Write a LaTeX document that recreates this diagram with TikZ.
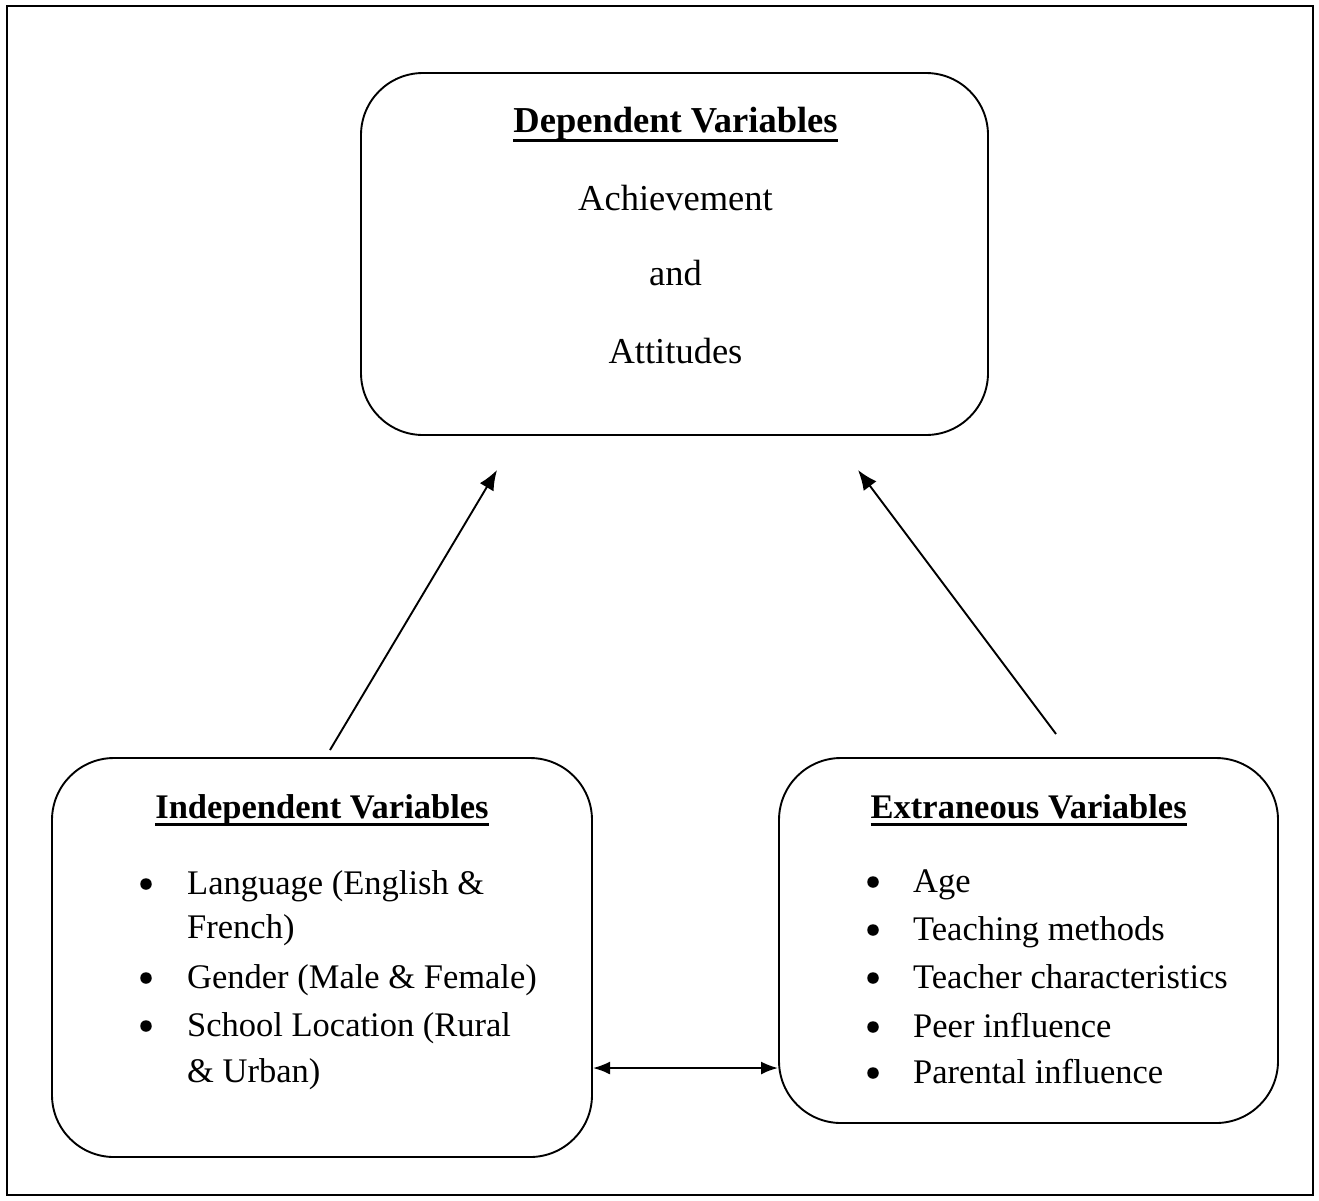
\documentclass[tikz,border=0pt]{standalone}
\usepackage{fontspec}
\setmainfont{Liberation Serif}
\usetikzlibrary{arrows.meta}
\begin{document}
\begin{tikzpicture}[x=1pt,y=-1pt,
  frame/.style={draw,line width=2.4pt},
  varbox/.style={draw,line width=1.9pt,rounded corners=62pt,inner sep=0pt},
  txt/.style={inner sep=0pt,anchor=base,font=\fontsize{34.5}{40}\selectfont},
  toptxt/.style={inner sep=0pt,anchor=base,font=\fontsize{36.5}{42}\selectfont},
  tophead/.style={inner sep=0pt,anchor=base,font=\fontsize{36.5}{42}\selectfont\bfseries},
  head/.style={inner sep=0pt,anchor=base,font=\fontsize{34.5}{40}\selectfont\bfseries},
  itemtxt/.style={txt,anchor=base west},
  dot/.style={circle,fill,inner sep=0pt,minimum size=11.5pt},
  uline/.style={line width=3pt},
  link/.style={line width=1.9pt,-{Latex[length=20pt,width=16pt]}},
  twoway/.style={line width=1.9pt,{Latex[length=17pt,width=13pt]}-{Latex[length=17pt,width=13pt]}}
]
\useasboundingbox (0,0) rectangle (1319,1200);
% outer frame
\draw[frame] (7,6) rectangle (1313,1195);

% the three variable boxes
\node[varbox,minimum width=627pt,minimum height=362pt] (dep) at (674.5,254) {};
\node[varbox,minimum width=540pt,minimum height=399pt] (indep) at (322,957.5) {};
\node[varbox,minimum width=499pt,minimum height=365pt] (extra) at (1028.5,940.5) {};

% dependent variables
\node[tophead] (deptitle) at (675.5,132) {Dependent Variables};
\draw[uline] ([yshift=-8pt]deptitle.base west) -- ([yshift=-8pt]deptitle.base east);
\node[toptxt] (ach) at (675.5,210) {Achievement};
\node[toptxt] (and) at (675.5,285) {and};
\node[toptxt] (att) at (675.5,363) {Attitudes};

% independent variables
\node[head] (indtitle) at (322,818) {Independent Variables};
\draw[uline] ([yshift=-6pt]indtitle.base west) -- ([yshift=-6pt]indtitle.base east);
\node[dot] (ib1) at (146,884) {};
\node[itemtxt] (i1a) at (187,894) {Language (English \&};
\node[itemtxt] (i1b) at (187,938) {French)};
\node[dot] (ib2) at (146,978) {};
\node[itemtxt] (i2) at (187,988) {Gender (Male \& Female)};
\node[dot] (ib3) at (146,1026) {};
\node[itemtxt] (i3a) at (187,1036) {School Location (Rural};
\node[itemtxt] (i3b) at (187,1082) {\& Urban)};

% extraneous variables
\node[head] (exttitle) at (1028.7,818) {Extraneous Variables};
\draw[uline] ([yshift=-6pt]exttitle.base west) -- ([yshift=-6pt]exttitle.base east);
\node[dot] (eb1) at (873,882) {};
\node[itemtxt] (e1) at (913,892) {Age};
\node[dot] (eb2) at (873,930) {};
\node[itemtxt] (e2) at (913,940) {Teaching methods};
\node[dot] (eb3) at (873,978) {};
\node[itemtxt] (e3) at (913,988) {Teacher characteristics};
\node[dot] (eb4) at (873,1027) {};
\node[itemtxt] (e4) at (913,1037) {Peer influence};
\node[dot] (eb5) at (873,1073) {};
\node[itemtxt] (e5) at (913,1083) {Parental influence};

% connectors
\coordinate (indfrom) at (330,750);
\coordinate (indto) at (497,470);
\coordinate (extfrom) at (1056,734);
\coordinate (extto) at (858,470);
\coordinate (bothL) at (593,1068);
\coordinate (bothR) at (778,1068);
\draw[link] (indfrom) -- (indto);
\draw[link] (extfrom) -- (extto);
\draw[twoway] (bothL) -- (bothR);
\end{tikzpicture}
\end{document}
